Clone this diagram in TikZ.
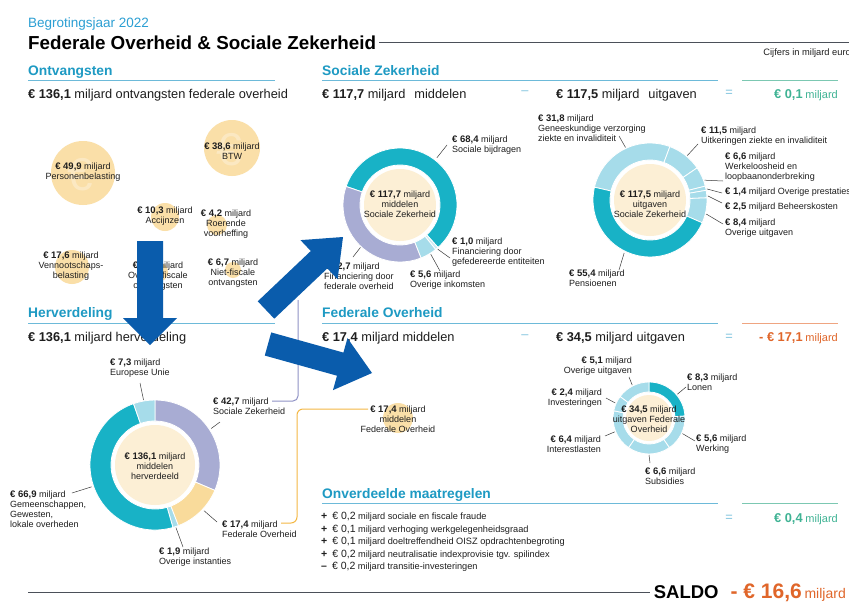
\documentclass[tikz,border=0pt]{standalone}
\usepackage{fontspec}
\setmainfont{Liberation Sans}
\usetikzlibrary{calc}
\definecolor{txt}{HTML}{1E1E1E}
\definecolor{tblue}{HTML}{2C9FD3}
\definecolor{hblue}{HTML}{1E9AC3}
\definecolor{ublue}{HTML}{6DBAD9}
\definecolor{teal1}{HTML}{18B2C6}
\definecolor{lcyan}{HTML}{A6DCEA}
\definecolor{lcyan2}{HTML}{CDEBF3}
\definecolor{lav}{HTML}{A8ACD3}
\definecolor{beige}{HTML}{FCEFD5}
\definecolor{ycirc}{HTML}{FADFA8}
\definecolor{yseg}{HTML}{F9DB9B}
\definecolor{gval}{HTML}{3FB394}
\definecolor{gcol}{HTML}{7CC8B2}
\definecolor{oval}{HTML}{E0662A}
\definecolor{ocol}{HTML}{EFA581}
\definecolor{ablue}{HTML}{0A5CAC}
\definecolor{pcol}{HTML}{8F92C6}
\definecolor{ocon}{HTML}{F4B844}
\definecolor{dcol}{HTML}{4B5059}
\definecolor{leadc}{HTML}{3A3A3A}
\definecolor{opc}{HTML}{7FC3DE}
\newcommand\mj[1]{{\fontsize{9.5}{10}\selectfont\bfseries €~#1} miljard}
\newcommand\dseg[6]{\filldraw[fill=#6,draw=white,line width=0.8pt] ($(#1)+(#4:#3)$) arc[start angle=#4,end angle=#5,radius=#3] -- ($(#1)+(#5:#2)$) arc[start angle=#5,end angle=#4,radius=#2] -- cycle;}
\newcommand\bigarrow[5]{%
 \coordinate (ab) at ($(#2)!#5!(#1)$);
 \fill[ablue] ($(#1)!#3!90:(#2)$) -- ($(ab)!#3!90:(#2)$) -- ($(ab)!#4!90:(#2)$) -- (#2) -- ($(ab)!#4!-90:(#2)$) -- ($(ab)!#3!-90:(#2)$) -- ($(#1)!#3!-90:(#2)$) -- cycle;}
\begin{document}
\begin{tikzpicture}[x=1pt,y=1pt,
 lbl/.style={inner sep=0pt, text=txt, font=\fontsize{9}{10}\selectfont},
 lead/.style={draw=leadc, line width=0.5pt},
 hdg/.style={inner sep=0pt, anchor=base west, text=hblue, font=\fontsize{13.8}{16}\selectfont\bfseries},
 sub/.style={inner sep=0pt, anchor=base west, text=txt, font=\fontsize{12.8}{15}\selectfont},
 op/.style={inner sep=0pt, text=opc, font=\fontsize{12.8}{15}\selectfont},
 uline/.style={draw=ublue, line width=1pt},
 gul/.style={draw=gcol, line width=1pt},
 oul/.style={draw=ocol, line width=1pt},
 dline/.style={draw=dcol, line width=1.1pt},
 ycircle/.style={circle, fill=ycirc, inner sep=0pt, minimum size=#1},
 wmark/.style={text=white, opacity=0.3, inner sep=0pt, font=\fontsize{46}{46}\selectfont},
 mline/.style={inner sep=0pt, anchor=base west, text=txt, font=\fontsize{9.2}{11}\selectfont}]
\useasboundingbox (0,0) rectangle (849,-608);
\fill[white] (0,0) rectangle (849,-608);

% ---------- header
\node[anchor=base west, inner sep=0pt, text=tblue, font=\fontsize{13.5}{16}\selectfont] (year) at (28,-27) {Begrotingsjaar 2022};
\node[anchor=base west, inner sep=0pt, text=black, font=\fontsize{18.8}{22}\selectfont\bfseries] (title) at (28,-49) {Federale Overheid \& Sociale Zekerheid};
\coordinate (redge) at (849,0);
\draw[dline] ($(title.east)+(3,0)$) -- (title.east -| redge);
\node[anchor=base east, inner sep=0pt, text=txt, font=\fontsize{9.3}{11}\selectfont] (cijfers) at (851,-55) {Cijfers in miljard euro};

% ---------- Ontvangsten
\node[hdg] (hOnt) at (28,-75) {Ontvangsten};
\draw[uline] (28,-80) -- (275,-80);
\node[sub] (sOnt) at (28,-98) {\textbf{€ 136,1} miljard ontvangsten federale overheid};

\node[ycircle=64] (cPB) at (83,-173) {};
\node[wmark] (wPB) at (80,-175) {€};
\node[ycircle=56] (cBTW) at (232,-148) {};
\node[wmark] (wBTW) at (229,-150) {€};
\node[ycircle=28] (cAcc) at (165,-217) {};
\node[ycircle=20] (cRoe) at (217,-225) {};
\node[ycircle=34] (cVen) at (72,-267) {};
\node[ycircle=20] (cOvf) at (158,-272) {};
\node[ycircle=16] (cNie) at (233,-270) {};

\node[lbl, align=center] (lPB) at (83,-172) {\mj{49,9}\\Personenbelasting};
\node[lbl, align=center] (lBTW) at (232,-151) {\mj{38,6}\\BTW};
\node[lbl, align=center] (lAcc) at (165,-216) {\mj{10,3}\\Accijnzen};
\node[lbl, align=center] (lRoe) at (226,-224) {\mj{4,2}\\Roerende\\voorheffing};
\node[lbl, align=center] (lVen) at (71,-266) {\mj{17,6}\\Vennootschaps-\\belasting};
\node[lbl, align=center] (lOvf) at (158,-276) {\mj{8,8}\\Overige fiscale\\ontvangsten};
\node[lbl, align=center] (lNie) at (233,-273) {\mj{6,7}\\Niet-fiscale\\ontvangsten};

% ---------- Sociale Zekerheid
\node[hdg] (hSZ) at (322,-75) {Sociale Zekerheid};
\draw[uline] (322,-80) -- (718,-80);
\draw[gul] (742,-80) -- (838,-80);
\node[sub] (sSZa) at (322,-98) {\textbf{€ 117,7} miljard\hspace{9pt}middelen};
\node[op] (minus1) at (525,-93) {–};
\node[sub] (sSZb) at (556,-98) {\textbf{€ 117,5} miljard\hspace{9pt}uitgaven};
\node[op] (eq1) at (729,-93) {=};
\node[anchor=base east, inner sep=0pt, text=gval] (vSZ) at (838,-98) {{\fontsize{12.8}{15}\selectfont\bfseries € 0,1} {\fontsize{11}{13}\selectfont miljard}};

% donut A: middelen SZ
\coordinate (dA) at (400,-205);
\dseg{dA}{40}{57}{161}{-48.2}{teal1}
\dseg{dA}{40}{57}{-48.2}{-51.3}{lcyan2}
\dseg{dA}{40}{57}{-51.3}{-68.4}{lcyan}
\dseg{dA}{40}{57}{-68.4}{-199}{lav}
\fill[beige] (dA) circle[radius=36];
\node[lbl, align=center] (cA) at (400,-204) {\mj{117,7}\\middelen\\Sociale Zekerheid};
\node[lbl, align=left, anchor=west] (a684) at (452,-145) {\mj{68,4}\\Sociale bijdragen};
\node[lbl, align=left, anchor=west] (a10) at (452,-252) {\mj{1,0}\\Financiering door\\gefedereerde entiteiten};
\node[lbl, align=left, anchor=west] (a56) at (410,-280) {\mj{5,6}\\Overige inkomsten};
\node[lbl, align=left, anchor=west] (a427) at (324,-276) {\mj{42,7}\\Financiering door\\federale overheid};
\draw[lead] (447,-145) -- ($(dA)+(52:60)$);
\draw[lead] (450,-258) -- ($(dA)+(-49.5:58)$);
\draw[lead] (440,-271) -- ($(dA)+(-58:58)$);
\draw[lead] (353,-257) -- ($(dA)+(-133:58)$);

% donut B: uitgaven SZ
\coordinate (dB) at (650,-200);
\dseg{dB}{40}{57}{167}{69.6}{lcyan}
\dseg{dB}{40}{57}{69.6}{34.3}{lcyan}
\dseg{dB}{40}{57}{34.3}{14.1}{lcyan}
\dseg{dB}{40}{57}{14.1}{9.8}{lcyan}
\dseg{dB}{40}{57}{9.8}{2.2}{lcyan}
\dseg{dB}{40}{57}{2.2}{-23.6}{lcyan}
\dseg{dB}{40}{57}{-23.6}{-193}{teal1}
\fill[beige] (dB) circle[radius=36];
\node[lbl, align=center] (cB) at (650,-204) {\mj{117,5}\\uitgaven\\Sociale Zekerheid};
\node[lbl, align=left, anchor=west] (b318) at (538,-128) {\mj{31,8}\\Geneeskundige verzorging\\ziekte en invaliditeit};
\node[lbl, align=left, anchor=west] (b115) at (701,-136) {\mj{11,5}\\Uitkeringen ziekte en invaliditeit};
\node[lbl, align=left, anchor=west] (b66) at (725,-167) {\mj{6,6}\\Werkeloosheid en\\loopbaanonderbreking};
\node[lbl, anchor=west] (b14) at (725,-192) {\mj{1,4} Overige prestaties};
\node[lbl, anchor=west] (b25) at (725,-207) {\mj{2,5} Beheerskosten};
\node[lbl, align=left, anchor=west] (b84) at (725,-228) {\mj{8,4}\\Overige uitgaven};
\node[lbl, align=left, anchor=west] (b554) at (569,-278) {\mj{55,4}\\Pensioenen};
\draw[lead] (619,-136) -- ($(dB)+(115:58)$);
\draw[lead] (698,-144) -- ($(dB)+(50:58)$);
\draw[lead] (723,-181) -- ($(dB)+(20:58)$);
\draw[lead] (722,-193) -- ($(dB)+(11:58)$);
\draw[lead] (722,-203) -- ($(dB)+(4:58)$);
\draw[lead] (723,-224) -- ($(dB)+(-14:58)$);
\draw[lead] (619,-270) -- ($(dB)+(-116:59)$);

% ---------- Herverdeling
\node[hdg] (hHer) at (28,-317) {Herverdeling};
\draw[uline] (28,-323) -- (275,-323);
\node[sub] (sHer) at (28,-341) {\textbf{€ 136,1} miljard herverdeling};

\coordinate (dC) at (155,-465);
\dseg{dC}{44}{65}{90}{-22.95}{lav}
\dseg{dC}{44}{65}{-22.95}{-68.97}{yseg}
\dseg{dC}{44}{65}{-68.97}{-74}{lcyan}
\dseg{dC}{44}{65}{-74}{-250.7}{teal1}
\dseg{dC}{44}{65}{-250.7}{-270}{lcyan}
\fill[beige] (dC) circle[radius=40];
\node[lbl, align=center] (cC) at (155,-466) {\mj{136,1}\\middelen\\herverdeeld};
\node[lbl, align=left, anchor=west] (c73) at (110,-368) {\mj{7,3}\\Europese Unie};
\node[lbl, align=left, anchor=west] (c427) at (213,-406) {\mj{42,7}\\Sociale Zekerheid};
\node[lbl, align=left, anchor=west] (c174) at (222,-529) {\mj{17,4}\\Federale Overheid};
\node[lbl, align=left, anchor=west] (c19) at (159,-557) {\mj{1,9}\\Overige instanties};
\node[lbl, align=left, anchor=west] (c669) at (10,-509) {\mj{66,9}\\Gemeenschappen,\\Gewesten,\\lokale overheden};
\draw[lead] (140,-383) -- ($(dC)+(100:66)$);
\draw[lead] (220,-422) -- ($(dC)+(33:67)$);
\draw[lead] (217,-522) -- ($(dC)+(-43:67)$);
\draw[lead] (183,-547) -- ($(dC)+(-71.5:66)$);
\draw[lead] (72,-493) -- ($(dC)+(-161:67)$);

% connectors
\coordinate (pS) at (272,-401);
\coordinate (pT) at (298,-300);
\draw[draw=pcol, line width=1pt, rounded corners=5pt] (pS) -- (pS -| pT) -- (pT);
\coordinate (oS) at (281,-523);
\coordinate (oE) at (368,-409);
\draw[draw=ocon, line width=1pt, rounded corners=6pt] (oS) -- (297,-523) -- (297,-409) -- (oE);

% ---------- Federale Overheid
\node[hdg] (hFO) at (322,-317) {Federale Overheid};
\draw[uline] (322,-323) -- (718,-323);
\draw[oul] (742,-323) -- (838,-323);
\node[sub] (sFOa) at (322,-341) {\textbf{€ 17,4} miljard middelen};
\node[op] (minus2) at (525,-337) {–};
\node[sub] (sFOb) at (556,-341) {\textbf{€ 34,5} miljard uitgaven};
\node[op] (eq2) at (729,-337) {=};
\node[anchor=base east, inner sep=0pt, text=oval] (vFO) at (838,-341) {{\fontsize{12.8}{15}\selectfont\bfseries - € 17,1} {\fontsize{11}{13}\selectfont miljard}};

\node[ycircle=30] (cFOm) at (398,-418) {};
\node[lbl, align=center] (fMid) at (398,-419) {\mj{17,4}\\middelen\\Federale Overheid};

\coordinate (dD) at (649,-418);
\dseg{dD}{26}{36}{90}{3.1}{teal1}
\dseg{dD}{26}{36}{3.1}{-55.5}{lcyan}
\dseg{dD}{26}{36}{-55.5}{-124.6}{lcyan}
\dseg{dD}{26}{36}{-124.6}{-191.6}{lcyan}
\dseg{dD}{26}{36}{-191.6}{-216.7}{lcyan}
\dseg{dD}{26}{36}{-216.7}{-270}{lcyan}
\fill[beige] (dD) circle[radius=23];
\node[lbl, align=center] (cD) at (649,-419) {\mj{34,5}\\uitgaven Federale\\Overheid};
\node[lbl, align=right, anchor=east] (d51) at (632,-366) {\mj{5,1}\\Overige uitgaven};
\node[lbl, align=left, anchor=west] (d83) at (687,-382) {\mj{8,3}\\Lonen};
\node[lbl, align=right, anchor=east] (d24) at (602,-398) {\mj{2,4}\\Investeringen};
\node[lbl, align=right, anchor=east] (d64) at (601,-444) {\mj{6,4}\\Interestlasten};
\node[lbl, align=left, anchor=west] (d56) at (696,-444) {\mj{5,6}\\Werking};
\node[lbl, align=left, anchor=west] (d66) at (645,-476) {\mj{6,6}\\Subsidies};
\draw[lead] (629,-377) -- ($(dD)+(117:37)$);
\draw[lead] (686,-387) -- ($(dD)+(40:37)$);
\draw[lead] (606,-398) -- ($(dD)+(156:37)$);
\draw[lead] (605,-436) -- ($(dD)+(-158:37)$);
\draw[lead] (695,-441) -- ($(dD)+(-25:37)$);
\draw[lead] (650,-463) -- ($(dD)+(-90:37)$);

% ---------- Onverdeelde maatregelen
\node[hdg] (hOM) at (322,-498) {Onverdeelde maatregelen};
\draw[uline] (322,-503) -- (718,-503);
\draw[gul] (742,-503) -- (838,-503);
\node[op] (eq3) at (729,-518) {=};
\node[anchor=base east, inner sep=0pt, text=gval] (vOM) at (838,-522) {{\fontsize{12.8}{15}\selectfont\bfseries € 0,4} {\fontsize{11}{13}\selectfont miljard}};
\node[mline] (m1) at (321,-519.5) {{\fontsize{10.5}{12}\selectfont\bfseries +}\hspace{5pt}{\fontsize{10.5}{12}\selectfont € 0,2} miljard sociale en fiscale fraude};
\node[mline] (m2) at (321,-532) {{\fontsize{10.5}{12}\selectfont\bfseries +}\hspace{5pt}{\fontsize{10.5}{12}\selectfont € 0,1} miljard verhoging werkgelegenheidsgraad};
\node[mline] (m3) at (321,-544.5) {{\fontsize{10.5}{12}\selectfont\bfseries +}\hspace{5pt}{\fontsize{10.5}{12}\selectfont € 0,1} miljard doeltreffendheid OISZ opdrachtenbegroting};
\node[mline] (m4) at (321,-557) {{\fontsize{10.5}{12}\selectfont\bfseries +}\hspace{5pt}{\fontsize{10.5}{12}\selectfont € 0,2} miljard neutralisatie indexprovisie tgv. spilindex};
\node[mline] (m5) at (321,-569.5) {{\fontsize{10.5}{12}\selectfont\bfseries –}\hspace{5pt}{\fontsize{10.5}{12}\selectfont € 0,2} miljard transitie-investeringen};

% ---------- SALDO
\node[anchor=base east, inner sep=0pt, text=black] (saldo) at (846,-598) {{\fontsize{18.5}{20}\selectfont\bfseries SALDO}\hspace{12pt}{\color{oval}\fontsize{21}{22}\selectfont\bfseries - € 16,6} {\color{oval}\fontsize{14}{16}\selectfont miljard}};
\coordinate (lstart) at (28,0);
\draw[dline] (saldo.west -| lstart) -- ($(saldo.west)+(-4,0)$);

% ---------- big blue arrows
\coordinate (t1) at (150,-241); \coordinate (p1) at (150,-345);
\bigarrow{t1}{p1}{13pt}{27pt}{27pt}
\coordinate (t2) at (266,-310); \coordinate (p2) at (343,-237);
\bigarrow{t2}{p2}{12pt}{27pt}{33pt}
\coordinate (t3) at (268,-344); \coordinate (p3) at (372,-373);
\bigarrow{t3}{p3}{12pt}{27pt}{33pt}
\end{tikzpicture}
\end{document}
